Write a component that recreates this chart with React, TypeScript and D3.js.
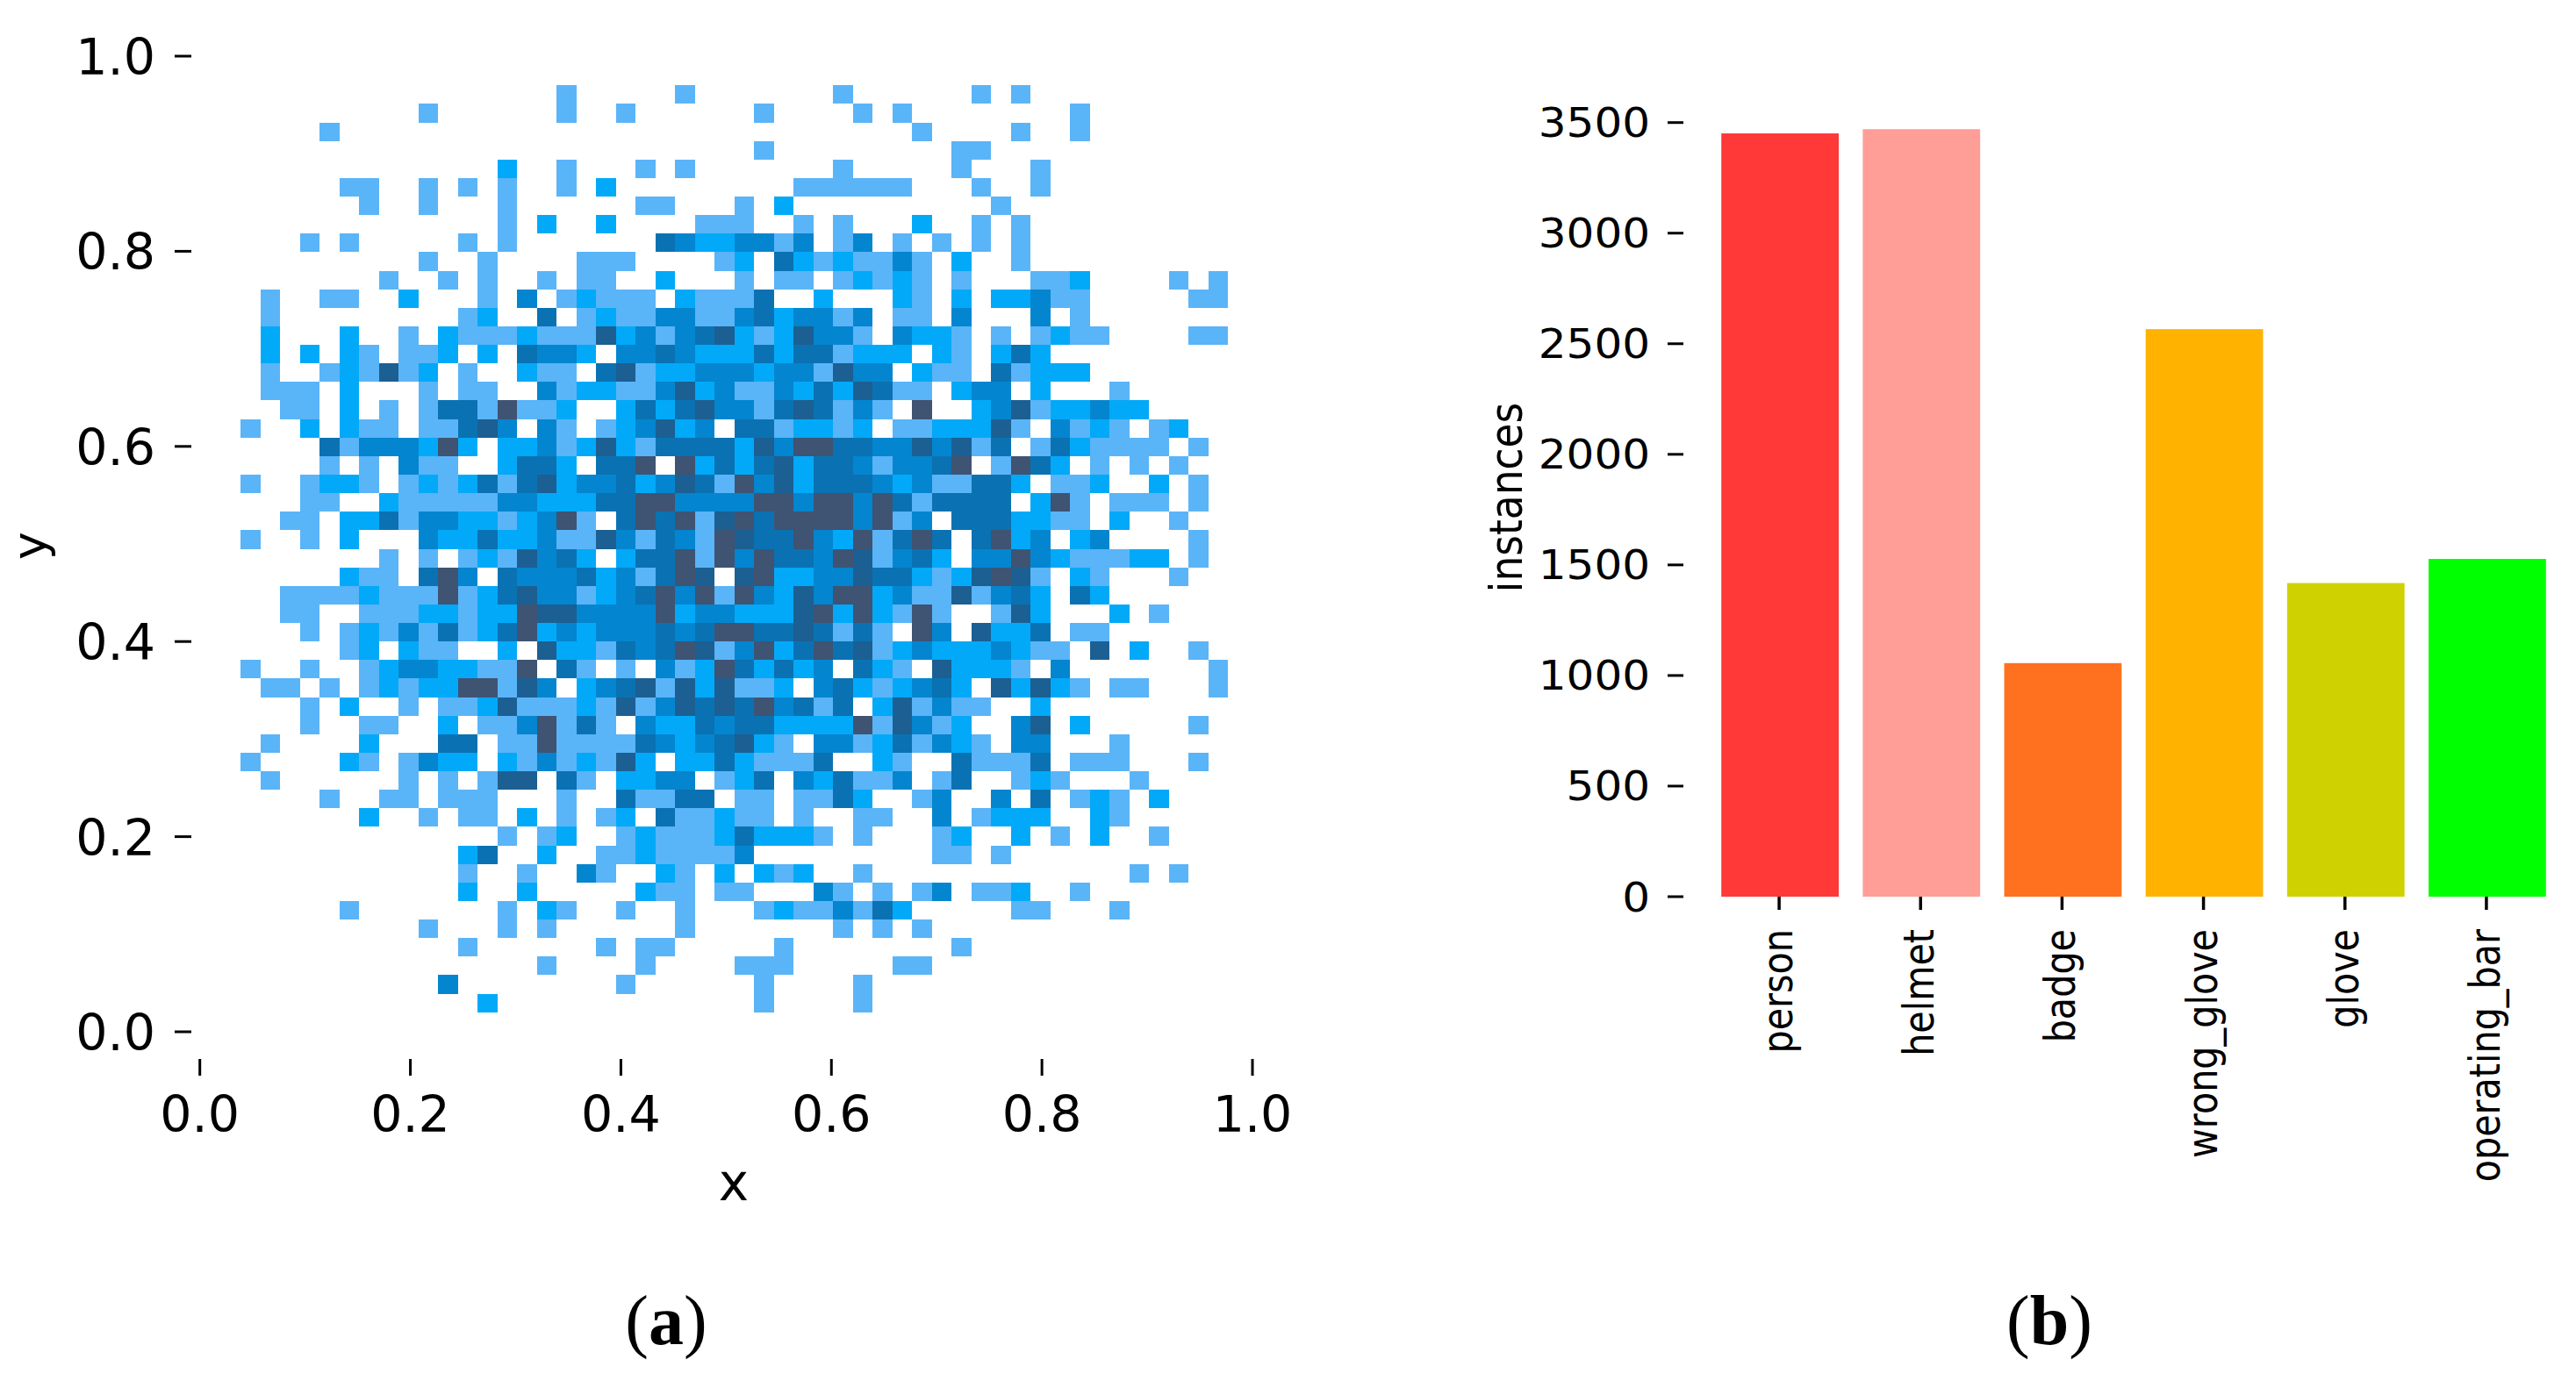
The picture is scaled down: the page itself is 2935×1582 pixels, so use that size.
import React from 'react';
import * as d3 from 'd3';

// panel (a): 2d histogram of box centres, one string per row from top to bottom.
// '.' is an empty bin, digits are the count level read from the shade.
const histRows = [
  '.......... ......1... ..1....... 1......1.1 ..........',
  '.........1 ......1..1 ......1... .1.1...... ..1.......',
  '....1..... .......... .......... ....1....1 ..1.......',
  '.......... .......... ......1... ......11.. ..........',
  '.......... ...2..1... 1.1....... 1.....1... 1.........',
  '.....11..1 .1.1..1.2. ........11 1111...1.. 1.........',
  '......1..1 ...1...... 11...1.2.. ........1. ..........',
  '.......... ...1.2..2. ...111..1. 1...2..1.1 ..........',
  '...1.1.... .1.1...... .43223313. 13.1.1.1.1 ..........',
  '.........1 ..1....111 ....12.421 21131.2..1 ..........',
  '.......1.. 1.1..1.11. .2...1.11. 12121.1... 112....1.1',
  '.1..11..2. ..1.3.1211 1.21114..2 ...21.2.22 311.....11',
  '.1........ .12..4.121 1331134233 13.11.3... 3.1.......',
  '.2...2..1. 2111211152 3134521253 31.3221.1. 1211....11',
  '.2.2.21.11 2.2.4332.3 3432224244 1222.21.24 2.........',
  '.1..121512 .1..211.45 1223332331 533.211.41 222.......',
  '.111.2...1 .11..31221 1352311324 25411.233. 2...1.....',
  '..11.2.1.1 4416112..2 4245331454 131.6..235 122322....',
  '1..2.211.1 1453.31.12 3523.44122 12.1122251 .3121.12..',
  '....413332 62.2231252 1444425366 443353514. 1421111.1.',
  '....1.1.31 1..2442.44 6.62424524 4313346.16 42.1.1.1..',
  '1..1221.12 1241452334 2354163524 4432311442 .112..2.1.',
  '...11..211 1113322244 6633336636 636414444. 261.111.1.',
  '..11.22413 32212361.4 6461564666 63613.4442 211.2..1..',
  '1..1.2...3 2242231153 1431654463 261464.462 3.23....1.',
  '.......1.1 .1215342.2 4461636443 651342.336 3211122.1.',
  '.....211.4 63.4333423 1465.56223 3544212565 1.21...1..',
  '..11112111 6124533123 4636163253 6623115134 2.42......',
  '..11..1112 2122655333 3623322256 262161..15 2...2.1...',
  '...1.12131 4124623233 3434664454 141.63.522 4.11......',
  '.....12.21 1..2.52214 3465136246 4512322232 11.5.2..1.',
  '1..1..1233 22116.41.1 .312642423 .421.52221 .3.......1',
  '.11.1.1212 266153.234 51525112.3 4212342.52 521.11...1',
  '...1.2..1. 1125111215 1354546341 4.251311.. 2.........',
  '...1..11.. 2.1136141. 3224344222 2615312..3 5.2.....1.',
  '.1....2... 44.1161111 43234521.3 31241321.3 3...1.....',
  '1....21.13 22.2131215 2.22421114 ..21..4111 4.111...1.',
  '.1......1. 1.155.41.2 233.124.32 4113.14..1 21...1....',
  '....1..11. 111...1..4 1144.11.11 42..13..3. 4.121.2...',
  '......2..1 .11.2.1.12 .411211.1. .11..3.122 2..21.....',
  '.......... ...1.12..1 2111242221 .1...12..2 .1.2..1...',
  '.......... .24..2..11 211113.... .....11.1. ..........',
  '.......... .1..1..31. .21.2.212. .1........ .....1.1..',
  '.......... .2..2..... 211.11...3 1.1.13.112 ..1.......',
  '.....1.... ...1.21..1 ..1...1211 3142.....1 1...1.....',
  '.........1 ...1.1.... ..1....... 1.1.1..... ..........',
  '.......... .1......1. 11.....1.. ......1... ..........',
  '.......... .....1.... 1....111.. ...11..... ..........',
  '.......... 3........1 ......1... .1........ ..........',
  '.......... ..2....... ......1... .1........ ..........',
];
const histTicks = [0, 0.2, 0.4, 0.6, 0.8, 1];
const levelColors = ['#5ab4f8', '#02a9f8', '#0485cf', '#0a72b2', '#1c5f92', '#3f5373'];

// panel (b): instances per class
const classes = ['person', 'helmet', 'badge', 'wrong_glove', 'glove', 'operating_bar'];
const instances = [3451, 3470, 1056, 2566, 1418, 1527];
const classColors = ['#ff3838', '#ff9d97', '#ff701f', '#ffb200', '#cfd200', '#00ff00'];
const countTicks = [0, 500, 1000, 1500, 2000, 2500, 3000, 3500];

const SANS = '"DejaVu Sans", sans-serif';
const SERIF = '"Liberation Serif", serif';

const xBins = { start: 0.039, end: 0.977, count: 50 };
const yBins = { start: 0.97, end: 0.0201, count: 50 };

function HistPanel() {
  const xScale = d3.scaleLinear().domain([0, 1]).range([227.7, 1427]);
  const yScale = d3.scaleLinear().domain([0, 1]).range([1176, 64]);
  const xEdge = d3.scaleLinear().domain([0, xBins.count]).range([xScale(xBins.start), xScale(xBins.end)]);
  const yEdge = d3.scaleLinear().domain([0, yBins.count]).range([yScale(yBins.start), yScale(yBins.end)]);

  const cells = histRows.flatMap((row, r) =>
    row.replace(/ /g, '').split('').map((ch, c) => {
      if (ch === '.') return null;
      return (
        <rect
          key={r + '-' + c}
          x={xEdge(c)}
          y={yEdge(r)}
          width={xEdge(c + 1) - xEdge(c)}
          height={yEdge(r + 1) - yEdge(r)}
          fill={levelColors[+ch - 1]}
          shapeRendering="crispEdges"
        />
      );
    })
  );

  return (
    <g fontFamily={SANS} fill="#000">
      <g>{cells}</g>
      {histTicks.map((t) => (
        <g key={'y' + t}>
          <line x1={199} x2={218} y1={yScale(t)} y2={yScale(t)} stroke="#000" strokeWidth={3} />
          <text x={177} y={yScale(t) + 21} textAnchor="end" fontSize={57}>{t.toFixed(1)}</text>
        </g>
      ))}
      {histTicks.map((t) => (
        <g key={'x' + t}>
          <line x1={xScale(t)} x2={xScale(t)} y1={1207} y2={1226} stroke="#000" strokeWidth={3} />
          <text x={xScale(t)} y={1290} textAnchor="middle" fontSize={57}>{t.toFixed(1)}</text>
        </g>
      ))}
      <text x={836} y={1368} textAnchor="middle" fontSize={58}>x</text>
      <text transform="translate(52,622) rotate(-90)" textAnchor="middle" fontSize={54}>y</text>
    </g>
  );
}

function BarPanel() {
  const xScale = d3.scaleBand().domain(classes).range([1947.5, 2914.5]).paddingInner(0.17).paddingOuter(0.085);
  const yScale = d3.scaleLinear().domain([0, 3500]).range([1022, 139.7]);

  return (
    <g fontFamily={SANS} fill="#000">
      {classes.map((name, i) => (
        <rect
          key={name}
          x={xScale(name)}
          y={yScale(instances[i])}
          width={xScale.bandwidth()}
          height={yScale(0) - yScale(instances[i])}
          fill={classColors[i]}
        />
      ))}
      {countTicks.map((t) => (
        <g key={t}>
          <line x1={1900} x2={1918} y1={yScale(t)} y2={yScale(t)} stroke="#000" strokeWidth={3} />
          <text
            transform={`translate(1880,${yScale(t) + 16.5}) scale(1,0.92)`}
            textAnchor="end"
            fontSize={50}
          >
            {t}
          </text>
        </g>
      ))}
      {classes.map((name) => {
        const cx = xScale(name)! + xScale.bandwidth() / 2 - 1;
        return (
          <g key={name}>
            <line x1={cx} x2={cx} y1={1022} y2={1037} stroke="#000" strokeWidth={3.5} />
            {/* labels in the original are stretched across their baseline */}
            <text
              transform={`translate(${cx + 15},1059) rotate(-90) scale(1,1.17)`}
              textAnchor="end"
              fontSize={41.3}
            >
              {name}
            </text>
          </g>
        );
      })}
      <text transform="translate(1734,567) rotate(-90) scale(1,1.15)" textAnchor="middle" fontSize={45.5}>
        instances
      </text>
    </g>
  );
}

function Caption({ x, letter }: { x: number; letter: string }) {
  return (
    <text x={x} y={1532} textAnchor="middle" fontFamily={SERIF} fontSize={80} fill="#000">
      (<tspan fontWeight="bold">{letter}</tspan>)
    </text>
  );
}

export default function App() {
  return (
    <svg
      width={2935}
      height={1582}
      style={{ position: 'absolute', left: 0, top: 0, background: '#fff' }}
    >
      <HistPanel />
      <BarPanel />
      <Caption x={759} letter="a" />
      <Caption x={2335} letter="b" />
    </svg>
  );
}
